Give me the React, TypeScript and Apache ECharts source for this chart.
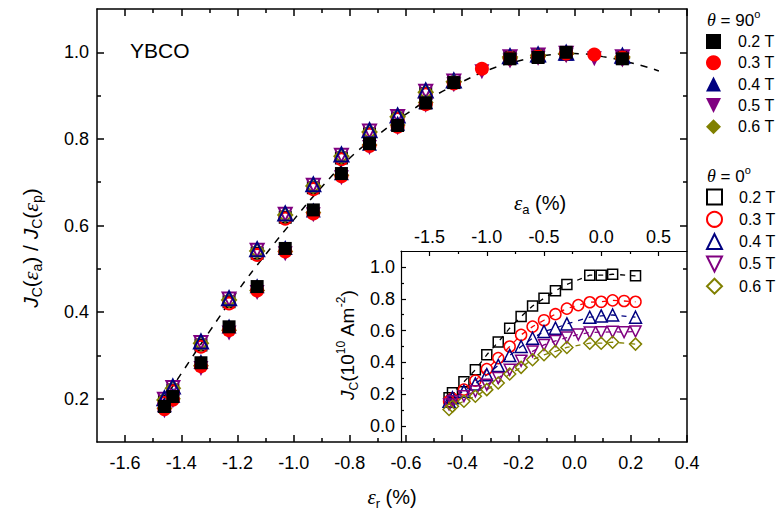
import { useEffect, useRef } from 'react';
import * as echarts from 'echarts';

// ---------- data ----------
// main plot: strain eps_r (%) of each measured point
const EPS_R = [-1.46, -1.43, -1.33, -1.23, -1.13, -1.03, -0.93, -0.83, -0.73, -0.63, -0.53, -0.43, -0.33, -0.23, -0.13, -0.03, 0.07, 0.17];

// theta = 90 deg (filled symbols), normalised Jc
const N90_02 = [0.182, 0.205, 0.283, 0.366, 0.459, 0.547, 0.636, 0.720, 0.789, 0.831, 0.883, 0.930, null, 0.985, 0.988, 1.000, null, 0.985];
const N90_03 = [0.176, 0.198, 0.275, 0.358, 0.450, 0.540, 0.628, 0.714, 0.784, 0.828, 0.880, 0.928, 0.962, 0.986, 0.990, 0.997, 0.995, 0.988];
const N90_04 = [0.186, 0.208, 0.286, 0.368, 0.461, 0.549, 0.636, 0.722, 0.790, 0.836, 0.886, 0.935, null, 0.992, 0.993, 0.998, null, 0.990];
const N90_05 = [0.172, 0.195, 0.270, 0.352, 0.445, 0.535, 0.625, 0.710, 0.780, 0.826, 0.878, 0.925, 0.955, 0.980, 0.986, 0.992, 0.985, 0.982];
const N90_06 = [0.178, 0.200, 0.276, 0.358, 0.450, 0.540, 0.630, 0.716, 0.786, 0.832, 0.884, 0.932, null, 0.985, 0.990, 0.996, null, 0.986];

// theta = 0 deg (open symbols), normalised Jc
const N0_02 = [0.194, 0.220, 0.324, 0.424, 0.536, 0.619, 0.687, 0.756, 0.812, 0.848, 0.905, 0.930, null, 0.988, 0.992, 0.998, null, 0.988];
const N0_03 = [0.190, 0.217, 0.320, 0.420, 0.532, 0.616, 0.684, 0.753, 0.810, 0.846, 0.903, 0.929, null, 0.987, 0.991, 0.997, null, 0.987];
const N0_04 = [0.201, 0.228, 0.332, 0.432, 0.545, 0.628, 0.695, 0.764, 0.820, 0.854, 0.912, 0.935, null, 0.991, 0.995, 0.999, null, 0.992];
const N0_05 = [0.199, 0.226, 0.330, 0.430, 0.543, 0.626, 0.693, 0.762, 0.818, 0.852, 0.910, 0.934, null, 0.990, 0.994, 0.998, null, 0.990];
const N0_06 = [0.197, 0.224, 0.328, 0.428, 0.541, 0.624, 0.691, 0.760, 0.816, 0.851, 0.908, 0.932, null, 0.989, 0.993, 0.997, null, 0.989];

// dashed fit curve in main plot
const FIT_X = [-1.47, -1.40, -1.30, -1.20, -1.10, -1.00, -0.90, -0.80, -0.70, -0.60, -0.50, -0.40, -0.30, -0.20, -0.10, 0.00, 0.10, 0.20, 0.30];
const FIT_Y = [0.190, 0.258, 0.355, 0.448, 0.533, 0.613, 0.689, 0.756, 0.809, 0.857, 0.899, 0.932, 0.961, 0.980, 0.993, 0.997, 0.990, 0.976, 0.957];

// inset: applied strain eps_a (%) and Jc (1e10 A/m2), theta = 0
const EPS_A = [-1.33, -1.30, -1.20, -1.10, -1.00, -0.90, -0.80, -0.70, -0.60, -0.50, -0.40, -0.30, -0.20, -0.10, 0.00, 0.10, 0.20, 0.30];
const JC_02 = [0.178, 0.209, 0.278, 0.354, 0.448, 0.528, 0.615, 0.688, 0.754, 0.803, 0.850, 0.890, null, 0.948, 0.948, 0.954, null, 0.944];
const JC_03 = [0.156, 0.173, 0.229, 0.286, 0.358, 0.427, 0.500, 0.573, 0.625, 0.665, 0.703, 0.738, 0.760, 0.778, 0.781, 0.790, 0.786, 0.781];
const JC_04 = [0.156, 0.178, 0.219, 0.265, 0.323, 0.381, 0.444, 0.500, 0.552, 0.594, 0.615, 0.642, null, 0.684, 0.692, 0.698, null, 0.684];
const JC_05 = [0.136, 0.156, 0.188, 0.219, 0.260, 0.302, 0.354, 0.410, 0.469, 0.510, 0.535, 0.556, 0.575, 0.588, 0.590, 0.592, 0.590, 0.595];
const JC_06 = [0.104, 0.125, 0.156, 0.188, 0.229, 0.271, 0.327, 0.369, 0.417, 0.448, 0.469, 0.494, null, 0.521, 0.521, 0.527, null, 0.515];

const FIELDS = ['0.2 T', '0.3 T', '0.4 T', '0.5 T', '0.6 T'];

// tick values
const MAIN_X_MAJOR = [-1.6, -1.4, -1.2, -1.0, -0.8, -0.6, -0.4, -0.2, 0.0, 0.2, 0.4];
const MAIN_X_MINOR = [-1.5, -1.3, -1.1, -0.9, -0.7, -0.5, -0.3, -0.1, 0.1, 0.3];
const MAIN_Y_MAJOR = [0.2, 0.4, 0.6, 0.8, 1.0];
const MAIN_Y_MINOR = [0.3, 0.5, 0.7, 0.9];
const INSET_X_MAJOR = [-1.5, -1.0, -0.5, 0.0, 0.5];
const INSET_X_MINOR = [-1.25, -0.75, -0.25, 0.25];
const INSET_Y_MAJOR = [0.0, 0.2, 0.4, 0.6, 0.8, 1.0];
const INSET_Y_MINOR = [0.1, 0.3, 0.5, 0.7, 0.9];

// ---------- styling ----------
const FONT = "'Liberation Sans', Arial, sans-serif";
const SERIF = "'Liberation Serif', 'Times New Roman', serif";
const COLORS = ['#000000', '#ff0000', '#000080', '#800080', '#808000'];
const SYMBOLS = ['rect', 'circle', 'triangle', 'path://M0,0L10,0L5,10Z', 'diamond'];
const FILLED_SIZE = [13, 14, 15, 15, 16];
const OPEN_SIZE = [11, 12, 14, 13, 14];
const INSET_SIZE = [10, 11, 12, 11, 12];

function pairs(xs: number[], ys: (number | null)[]) {
  const out: number[][] = [];
  xs.forEach((x, i) => {
    const y = ys[i];
    if (y !== null && y !== undefined) out.push([x, y]);
  });
  return out;
}

function axisDef(grid: number, pos: string, min: number, max: number, ticks: number[], len: number, line: boolean, labels: number[] | null, lw: number, margin = 10) {
  return {
    type: 'value', gridIndex: grid, position: pos, min, max,
    axisLine: { show: line, onZero: false, lineStyle: { color: '#000', width: lw } },
    axisTick: { show: true, inside: true, length: len, customValues: ticks, lineStyle: { color: '#000', width: lw } },
    axisLabel: labels
      ? { show: true, customValues: labels, formatter: (v: number) => v.toFixed(1), color: '#000', fontSize: 18, fontFamily: FONT, margin }
      : { show: false },
    splitLine: { show: false },
    minorTick: { show: false },
  };
}

function buildOption() {
  const main90 = [N90_02, N90_03, N90_04, N90_05, N90_06];
  const main0 = [N0_02, N0_03, N0_04, N0_05, N0_06];
  const inset = [JC_02, JC_03, JC_04, JC_05, JC_06];

  const series: any[] = [];
  series.push({
    type: 'line', name: 'fit', xAxisIndex: 0, yAxisIndex: 0, data: pairs(FIT_X, FIT_Y),
    smooth: true, showSymbol: false, symbol: 'none', z: 1,
    lineStyle: { color: '#000', width: 1.5, type: [7, 7] }, silent: true,
  });
  // inset dashed connectors + open symbols
  inset.forEach((ys, i) => {
    series.push({
      type: 'line', name: 'inset|' + FIELDS[i], xAxisIndex: 4, yAxisIndex: 4, data: pairs(EPS_A, ys),
      symbol: SYMBOLS[i], symbolSize: INSET_SIZE[i], showSymbol: true, z: 3,
      lineStyle: { color: COLORS[i], width: 1.3, type: [5, 6] },
      itemStyle: { color: 'rgba(255,255,255,0)', borderColor: COLORS[i], borderWidth: 1.5, opacity: 1 },
    });
  });
  // theta = 0 open symbols (blue triangle on top)
  [0, 1, 3, 4, 2].forEach((i) => {
    series.push({
      type: 'scatter', name: '0|' + FIELDS[i], xAxisIndex: 0, yAxisIndex: 0,
      data: pairs(EPS_R, main0[i]), symbol: SYMBOLS[i], symbolSize: OPEN_SIZE[i], z: 4,
      itemStyle: { color: 'rgba(255,255,255,0)', borderColor: COLORS[i], borderWidth: 2, opacity: 1 },
    });
  });
  // theta = 90 filled symbols (black square on top)
  [4, 3, 2, 1, 0].forEach((i) => {
    series.push({
      type: 'scatter', name: '90|' + FIELDS[i], xAxisIndex: 0, yAxisIndex: 0,
      data: pairs(EPS_R, main90[i]), symbol: SYMBOLS[i], symbolSize: FILLED_SIZE[i], z: 5,
      itemStyle: { color: COLORS[i], opacity: 1 },
    });
  });

  const legendCommon = {
    orient: 'vertical', left: 706, itemWidth: 15, itemHeight: 15, itemGap: 5.3, padding: 0,
    selectedMode: false, formatter: (n: string) => n.split('|')[1],
    textStyle: { fontSize: 16, fontFamily: FONT, color: '#000', padding: [0, 0, 0, 12] },
  };

  const sub = (fs: number) => ({ fontSize: fs, fontFamily: FONT, fill: '#000', lineHeight: fs, verticalAlign: 'bottom' });
  const sup = (fs: number) => ({ fontSize: fs, fontFamily: FONT, fill: '#000', lineHeight: fs, verticalAlign: 'top' });
  const norm = (fs: number) => ({ fontSize: fs, fontFamily: FONT, fill: '#000', lineHeight: fs + 6 });
  const ital = (fs: number) => ({ fontSize: fs, fontFamily: FONT, fontStyle: 'italic', fill: '#000', lineHeight: fs + 6 });
  const greek = (fs: number) => ({ fontSize: fs + 1, fontFamily: SERIF, fontStyle: 'italic', fill: '#000', lineHeight: fs + 6 });

  const graphic: any[] = [
    {
      type: 'text', x: 130, y: 50,
      style: { text: 'YBCO', fontSize: 21, fontFamily: FONT, fill: '#000', align: 'left', verticalAlign: 'middle' },
    },
    {
      type: 'text', x: 392, y: 497,
      style: {
        text: '{e|ε}{s|r}{n| (%)}', align: 'center', verticalAlign: 'middle',
        rich: { e: greek(20), s: sub(13), n: norm(20) },
      },
    },
    {
      type: 'text', x: 30, y: 248, rotation: Math.PI / 2,
      style: {
        text: '{j|J}{s|C}{n|(}{e|ε}{s|a}{n|) / }{j|J}{s|C}{n|(}{e|ε}{s|p}{n|)}', align: 'center', verticalAlign: 'middle',
        rich: { j: ital(21), e: greek(21), s: sub(14), n: norm(21) },
      },
    },
    {
      type: 'text', x: 540, y: 203,
      style: {
        text: '{e|ε}{s|a}{n| (%)}', align: 'center', verticalAlign: 'middle',
        rich: { e: greek(20), s: sub(13), n: norm(20) },
      },
    },
    {
      type: 'text', x: 347, y: 345, rotation: Math.PI / 2,
      style: {
        text: '{j|J}{s|C}{n|(10}{p|10}{n| Am}{p|-2}{n|)}', align: 'center', verticalAlign: 'middle',
        rich: { j: ital(19), s: sub(12), p: sup(12), n: norm(19) },
      },
    },
    {
      type: 'text', x: 707, y: 20,
      style: {
        text: '{t|θ}{n| = 90}{p|o}', align: 'left', verticalAlign: 'middle',
        rich: { t: greek(17), n: norm(17), p: sup(11) },
      },
    },
    {
      type: 'text', x: 707, y: 176,
      style: {
        text: '{t|θ}{n| = 0}{p|o}', align: 'left', verticalAlign: 'middle',
        rich: { t: greek(17), n: norm(17), p: sup(11) },
      },
    },
  ];

  return {
    animation: false,
    backgroundColor: '#ffffff',
    grid: [
      { left: 97, top: 9, width: 590, height: 433, containLabel: false },
      { left: 401, top: 251, width: 286, height: 191, containLabel: false },
    ],
    xAxis: [
      axisDef(0, 'bottom', -1.7, 0.4, MAIN_X_MAJOR, 7, true, MAIN_X_MAJOR, 1.5, 12),
      axisDef(0, 'bottom', -1.7, 0.4, MAIN_X_MINOR, 4, false, null, 1.5),
      axisDef(0, 'top', -1.7, 0.4, MAIN_X_MAJOR, 7, true, null, 1.5),
      axisDef(0, 'top', -1.7, 0.4, MAIN_X_MINOR, 4, false, null, 1.5),
      axisDef(1, 'top', -1.75, 0.75, INSET_X_MAJOR, 5, true, INSET_X_MAJOR, 1.2, 5),
      axisDef(1, 'top', -1.75, 0.75, INSET_X_MINOR, 3, false, null, 1.2),
    ],
    yAxis: [
      axisDef(0, 'left', 0.1, 1.1, MAIN_Y_MAJOR, 7, true, MAIN_Y_MAJOR, 1.5, 8),
      axisDef(0, 'left', 0.1, 1.1, MAIN_Y_MINOR, 4, false, null, 1.5),
      axisDef(0, 'right', 0.1, 1.1, MAIN_Y_MAJOR, 7, true, null, 1.5),
      axisDef(0, 'right', 0.1, 1.1, MAIN_Y_MINOR, 4, false, null, 1.5),
      axisDef(1, 'left', -0.1, 1.1, INSET_Y_MAJOR, 5, true, INSET_Y_MAJOR, 1.2, 6),
      axisDef(1, 'left', -0.1, 1.1, INSET_Y_MINOR, 3, false, null, 1.2),
    ],
    legend: [
      { ...legendCommon, top: 33.5, data: FIELDS.map((f) => '90|' + f) },
      { ...legendCommon, top: 188.5, data: FIELDS.map((f) => '0|' + f) },
    ],
    graphic,
    series,
  };
}

export default function App() {
  const ref = useRef<HTMLDivElement>(null);
  useEffect(() => {
    const chart = echarts.init(ref.current as HTMLDivElement, null, { renderer: 'svg' });
    chart.setOption(buildOption() as any);
    return () => chart.dispose();
  }, []);
  return (
    <div
      ref={ref}
      style={{ position: 'absolute', left: 0, top: 0, width: 780, height: 516, background: '#fff' }}
    />
  );
}
